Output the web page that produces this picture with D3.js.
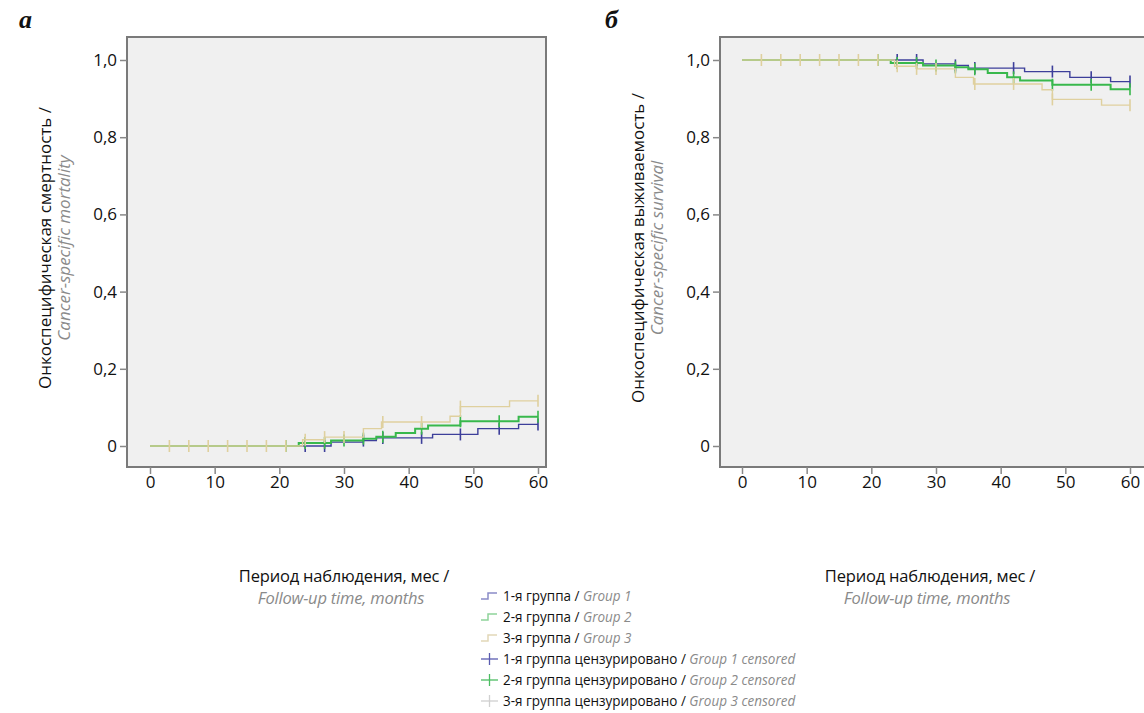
<!DOCTYPE html>
<html>
<head>
<meta charset="utf-8">
<script src="https://cdn.jsdelivr.net/npm/d3@7"></script>
<style>
  body { margin: 0; background: #fff; }
</style>
</head>
<body>
<script>
// Kaplan-Meier steps: [month, cumulative survival after step]
var group1Steps = [[0, 1], [28, 0.99], [33, 0.986], [35, 0.979], [43.7, 0.97], [50.7, 0.955], [57, 0.944], [60, 0.944]];
var group2Steps = [[0, 1], [23, 0.992], [28, 0.986], [33, 0.981], [35, 0.976], [38, 0.966], [41, 0.955], [43, 0.947], [48, 0.936], [57, 0.924], [60, 0.924]];
var group3Steps = [[0, 1], [23.6, 0.984], [27, 0.977], [33, 0.955], [35.8, 0.938], [46.4, 0.923], [48, 0.898], [55.6, 0.883], [60, 0.883]];

// censored observations (months)
var group1Censored = [24, 27, 33, 36, 42, 48, 54, 60];
var group2Censored = [21, 24, 27, 30, 33, 36, 42, 48, 54, 60];
var group3Censored = [3, 6, 9, 12, 15, 18, 21, 24, 27, 30, 36, 42, 48, 60];

var xTicks = [0, 10, 20, 30, 40, 50, 60];
var yTicks = [0, 0.2, 0.4, 0.6, 0.8, 1.0];

var groups = [
  {steps: group1Steps, cens: group1Censored, color: "#3d3f9a", width: 1.4},
  {steps: group2Steps, cens: group2Censored, color: "#38b84c", width: 2},
  {steps: group3Steps, cens: group3Censored, color: "#dfd09e", width: 1.4}
];

var FONT = "'Open Sans', sans-serif";
var W = 1144, H = 713;
var svg = d3.select("body").append("svg").attr("width", W).attr("height", H);

var fmt = function(d) { return d === 0 ? "0" : d3.format(".1f")(d).replace(".", ","); };

function survAt(steps, t) {
  var v = steps[0][1];
  steps.forEach(function(s) { if (s[0] <= t) v = s[1]; });
  return v;
}

function panel(opt) {
  var g = svg.append("g");
  var box = opt.box;
  var x = d3.scaleLinear().domain([0, 60]).range([opt.x0, opt.x0 + 388]);
  var y = d3.scaleLinear().domain([0, 1]).range([446, 60]);

  // plot background + frame
  g.append("rect")
    .attr("x", box[0]).attr("y", box[1])
    .attr("width", box[2] - box[0]).attr("height", box[3] - box[1])
    .attr("fill", "#f0f0f0")
    .attr("stroke", "#7a7a7a")
    .attr("stroke-width", 2);

  // y axis
  var ya = g.append("g")
    .attr("transform", "translate(" + box[0] + ",0)")
    .call(d3.axisLeft(y).tickValues(yTicks).tickFormat(fmt).tickSize(7).tickSizeOuter(0));
  ya.select(".domain").remove();
  ya.selectAll(".tick line").attr("stroke", "#888").attr("stroke-width", 1.5);
  ya.selectAll(".tick text").attr("fill", "#111").attr("x", -10)
    .style("font-family", FONT).style("font-size", "17px");

  // x axis
  var xa = g.append("g")
    .attr("transform", "translate(0," + box[3] + ")")
    .call(d3.axisBottom(x).tickValues(xTicks).tickSize(7).tickSizeOuter(0));
  xa.select(".domain").remove();
  xa.selectAll(".tick line").attr("stroke", "#888").attr("stroke-width", 1.5);
  xa.selectAll(".tick text").attr("fill", "#111").attr("y", 9)
    .style("font-family", FONT).style("font-size", "17px");

  var val = function(s) { return opt.mortality ? 1 - s : s; };
  var line = d3.line()
    .x(function(d) { return x(d[0]); })
    .y(function(d) { return y(val(d[1])); })
    .curve(d3.curveStepAfter);

  groups.forEach(function(gr) {
    g.append("path")
      .attr("d", line(gr.steps))
      .attr("fill", "none")
      .attr("stroke", gr.color)
      .attr("stroke-width", gr.width);
    g.selectAll(null)
      .data(gr.cens)
      .enter().append("line")
      .attr("x1", function(d) { return x(d); })
      .attr("x2", function(d) { return x(d); })
      .attr("y1", function(d) { return y(val(survAt(gr.steps, d))) - 6; })
      .attr("y2", function(d) { return y(val(survAt(gr.steps, d))) + 6; })
      .attr("stroke", gr.color)
      .attr("stroke-width", 1.6);
  });

  // axis titles
  var yt = g.append("text")
    .attr("transform", "translate(" + opt.ytx + ",248) rotate(-90)")
    .attr("text-anchor", "middle")
    .style("font-family", FONT).style("font-size", "17px");
  yt.append("tspan").attr("x", 0).attr("y", 0).attr("fill", "#111").text(opt.yRu);
  yt.append("tspan").attr("x", 0).attr("y", 19).attr("fill", "#8a8a8a")
    .style("font-style", "italic").text(opt.yEn);

  g.append("text").attr("text-anchor", "middle")
    .attr("x", opt.xtx).attr("y", 582)
    .style("font-family", FONT).style("font-size", "16.5px").style("letter-spacing", "-0.2px")
    .attr("fill", "#111").text("Период наблюдения, мес /");
  g.append("text").attr("text-anchor", "middle")
    .attr("x", opt.xtx - 3).attr("y", 604)
    .style("font-family", FONT).style("font-size", "16.5px").style("letter-spacing", "-0.2px")
    .style("font-style", "italic")
    .attr("fill", "#8a8a8a").text("Follow-up time, months");

  svg.append("text")
    .attr("x", opt.lx).attr("y", 28)
    .style("font-family", "'Liberation Serif', 'DejaVu Serif', serif")
    .style("font-weight", "bold").style("font-style", "italic")
    .style("font-size", "26px").attr("fill", "#111")
    .text(opt.letter);
}

panel({box: [127, 37, 546, 467], x0: 150, mortality: true, ytx: 51,
  yRu: "Онкоспецифическая смертность /", yEn: "Cancer-specific mortality",
  xtx: 344, lx: 19, letter: "а"});
panel({box: [720, 37, 1160, 467], x0: 742, mortality: false, ytx: 644,
  yRu: "Онкоспецифическая выживаемость /", yEn: "Cancer-specific survival",
  xtx: 930, lx: 605, letter: "б"});

// legend
var legendRu = ["1-я группа", "2-я группа", "3-я группа",
  "1-я группа цензурировано", "2-я группа цензурировано", "3-я группа цензурировано"];
var legendEn = ["Group 1", "Group 2", "Group 3",
  "Group 1 censored", "Group 2 censored", "Group 3 censored"];
var legendColors = ["#8a8cc8", "#8fd49a", "#e2d8b8", "#5a5cb0", "#4cbd62", "#d0d0d0"];

var lg = svg.append("g").attr("transform", "translate(481,596)");
legendRu.forEach(function(t, i) {
  var row = lg.append("g").attr("transform", "translate(0," + (i * 21) + ")");
  if (i < 3) {
    row.append("path")
      .attr("d", "M0,3 H7 V-3 H16")
      .attr("fill", "none").attr("stroke", legendColors[i]).attr("stroke-width", 1.5);
  } else {
    row.append("line").attr("x1", 0).attr("x2", 17).attr("y1", 0).attr("y2", 0)
      .attr("stroke", legendColors[i]).attr("stroke-width", 1.3);
    row.append("line").attr("x1", 8.5).attr("x2", 8.5).attr("y1", -6).attr("y2", 6)
      .attr("stroke", legendColors[i]).attr("stroke-width", 1.3);
  }
  // narrow the text a bit to mimic the condensed original face
  var tx = row.append("text")
    .attr("transform", "translate(22,5) scale(0.9,1)")
    .style("font-family", FONT).style("font-size", "15px");
  tx.append("tspan").attr("fill", "#111").text(t + " / ");
  tx.append("tspan").attr("fill", "#8a8a8a").style("font-style", "italic").text(legendEn[i]);
});
</script>
</body>
</html>
